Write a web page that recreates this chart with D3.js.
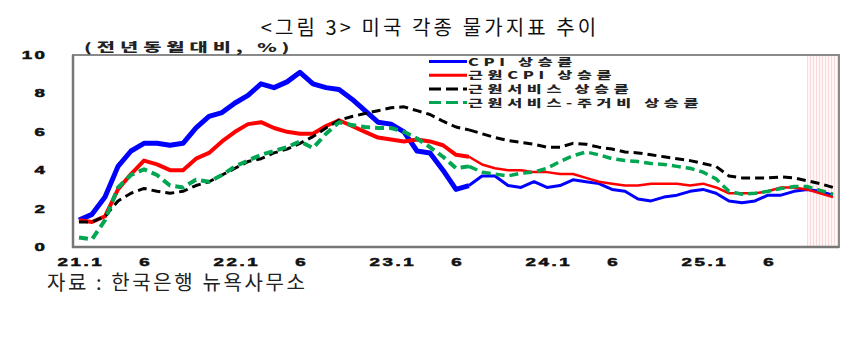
<!DOCTYPE html>
<html><head><meta charset="utf-8">
<script src="https://cdn.jsdelivr.net/npm/d3@7"></script>
<style>body{margin:0;background:#fff}</style>
</head><body><svg id="c" width="863" height="352"></svg>
<script>
// ---- data ----
const months = [
 "21.1","21.2","21.3","21.4","21.5","21.6","21.7","21.8","21.9","21.10","21.11","21.12",
 "22.1","22.2","22.3","22.4","22.5","22.6","22.7","22.8","22.9","22.10","22.11","22.12",
 "23.1","23.2","23.3","23.4","23.5","23.6","23.7","23.8","23.9","23.10","23.11","23.12",
 "24.1","24.2","24.3","24.4","24.5","24.6","24.7","24.8","24.9","24.10","24.11","24.12",
 "25.1","25.2","25.3","25.4","25.5","25.6","25.7","25.8","25.9","25.10","25.11"];
const cpi = [
 1.4,1.7,2.6,4.2,5.0,5.4,5.4,5.3,5.4,6.2,6.8,7.0,
 7.5,7.9,8.5,8.3,8.6,9.1,8.5,8.3,8.2,7.7,7.1,6.5,
 6.4,6.0,5.0,4.9,4.0,3.0,3.2,3.7,3.7,3.2,3.1,3.4,
 3.1,3.2,3.5,3.4,3.3,3.0,2.9,2.5,2.4,2.6,2.7,2.9,
 3.0,2.8,2.4,2.3,2.4,2.7,2.7,2.9,3.0,2.9,2.7];
const coreCpi = [
 1.4,1.3,1.6,3.0,3.8,4.5,4.3,4.0,4.0,4.6,4.9,5.5,
 6.0,6.4,6.5,6.2,6.0,5.9,5.9,6.3,6.6,6.3,6.0,5.7,
 5.6,5.5,5.6,5.5,5.3,4.8,4.7,4.3,4.1,4.0,4.0,3.9,
 3.9,3.8,3.8,3.6,3.4,3.3,3.2,3.2,3.3,3.3,3.3,3.2,
 3.3,3.1,2.8,2.8,2.8,2.9,3.1,3.1,3.0,2.8,2.6];
const coreServices = [
 1.3,1.3,1.6,2.4,2.8,3.05,2.9,2.8,2.9,3.2,3.4,3.75,
 4.1,4.45,4.6,4.9,5.1,5.4,5.75,6.2,6.6,6.8,6.95,7.1,
 7.25,7.3,7.1,6.9,6.55,6.25,6.1,5.9,5.7,5.55,5.45,5.35,
 5.2,5.2,5.4,5.35,5.2,5.1,4.95,4.9,4.8,4.7,4.6,4.5,
 4.35,4.2,3.7,3.6,3.6,3.6,3.65,3.6,3.45,3.3,3.1];
const superCore = [
 0.5,0.4,1.4,3.1,3.75,4.05,3.75,3.2,3.1,3.5,3.4,3.75,
 4.2,4.5,4.8,5.0,5.2,5.5,5.15,5.9,6.5,6.35,6.25,6.2,
 6.2,6.0,5.65,5.2,4.7,4.1,4.2,3.9,3.8,3.7,3.85,3.9,
 4.1,4.45,4.75,4.95,4.8,4.6,4.5,4.45,4.35,4.3,4.2,4.1,
 3.9,3.55,2.9,2.75,2.8,2.9,3.05,3.15,3.15,2.95,2.75];
const xTickMonths = ["21.1","21.6","22.1","22.6","23.1","23.6","24.1","24.6","25.1","25.6"];
const xTickLabels = ["21.1","6","22.1","6","23.1","6","24.1","6","25.1","6"];
const yTicks = [0,2,4,6,8,10];
const shadeFrom = "25.9";
const seriesNames = ["CPI 상승률","근원CPI 상승률","근원서비스 상승률","근원서비스-주거비 상승률"];
const title = "<그림 3> 미국 각종 물가지표 추이";
const unitLabel = "(전년동월대비, %)";
const sourceLabel = "자료 : 한국은행 뉴욕사무소";

// ---- layout ----
const svg = d3.select("#c");
const L = 73, R = 839, T = 55, B = 247;
const x = d3.scalePoint().domain(months).range([79, 833]);
const y = d3.scaleLinear().domain([0, 10]).range([B, T]);
const kr = "'Noto Sans CJK KR', sans-serif";
const labFont = "'Liberation Sans', Arial, sans-serif";
const TICK_SX = 1.7;

const series = [
  {name: seriesNames[0], values: cpi, color: "#0000ff", dash: null, w: [5, 3]},
  {name: seriesNames[1], values: coreCpi, color: "#ff0000", dash: null, w: [4, 2.5]},
  {name: seriesNames[2], values: coreServices, color: "#000000", dash: "9,5", w: [3, 3]},
  {name: seriesNames[3], values: superCore, color: "#00a651", dash: "9,5", w: [4, 3.5]},
];

// shading
const defs = svg.append("defs");
const pat = defs.append("pattern").attr("id","stripes").attr("patternUnits","userSpaceOnUse")
  .attr("width",3).attr("height",4);
pat.append("rect").attr("width",3).attr("height",4).attr("fill","#fff6f6");
pat.append("rect").attr("width",1).attr("height",4).attr("fill","#f9d9d9");
svg.append("rect").attr("x", x(shadeFrom)).attr("y", T).attr("width", R - x(shadeFrom)).attr("height", B - T)
  .attr("fill","url(#stripes)");

// frame
svg.append("rect").attr("x", L).attr("y", T).attr("width", R - L).attr("height", B - T)
  .attr("fill","none").attr("stroke","#8a8a8a").attr("stroke-width",2);
svg.append("path").attr("d", `M${L},${T}V${B}H${R}`).attr("fill","none").attr("stroke","#777").attr("stroke-width",2.5);

// lines
const line = d3.line().x(d => x(d.m)).y(d => y(d.v));
const split = 30;
series.forEach(s => {
  const pts = months.map((m,i) => ({m, v: s.values[i]}));
  const parts = [pts.slice(0, split + 1), pts.slice(split)];
  parts.forEach((p, k) => {
    svg.append("path").datum(p).attr("d", line).attr("fill","none")
      .attr("stroke", s.color).attr("stroke-width", s.w[k])
      .attr("stroke-dasharray", s.dash).attr("stroke-linejoin","round");
  });
});

// axes
const yAxis = svg.append("g").attr("transform", `translate(${L},0)`)
  .call(d3.axisLeft(y).tickValues(yTicks).tickSize(0).tickPadding(28).tickFormat(d3.format("d")));
yAxis.select(".domain").remove();
yAxis.selectAll("text").attr("font-family", labFont).attr("font-weight", 700)
  .attr("font-size", 11).attr("fill","#111").attr("stroke","#111").attr("stroke-width",0.5)
  .attr("letter-spacing", 1.5)
  .attr("x", -28 / TICK_SX).attr("dx", 1.5).attr("transform", `scale(${TICK_SX},1)`);

const xAxis = svg.append("g").attr("transform", `translate(0,${B})`)
  .call(d3.axisBottom(x).tickValues(xTickMonths).tickSize(0).tickPadding(11)
    .tickFormat(d => xTickLabels[xTickMonths.indexOf(d)]));
xAxis.select(".domain").remove();
xAxis.selectAll("text").attr("font-family", labFont).attr("font-weight", 700)
  .attr("font-size", 11).attr("fill","#111").attr("stroke","#111").attr("stroke-width",0.5)
  .attr("letter-spacing", 1.5).attr("dx", 0.75)
  .attr("transform", `scale(${TICK_SX},1)`);

// legend
const leg = svg.append("g").attr("transform","translate(429,61.5)");
series.forEach((s, i) => {
  const g = leg.append("g").attr("transform", `translate(0,${i * 13.7})`);
  g.append("line").attr("x1",0).attr("x2",38).attr("stroke", s.color).attr("stroke-width",3)
    .attr("stroke-dasharray", s.dash ? "12,5" : null);
  g.append("g").attr("transform","translate(39,4)scale(1.55,1)")
    .append("text").text(s.name)
    .attr("font-family", kr).attr("font-weight",900).attr("font-size",10.5)
    .attr("letter-spacing", 3).attr("fill","#222");
});

// texts
svg.append("text").attr("x", 430).attr("y", 35).attr("text-anchor","middle").text(title)
  .attr("font-family", kr).attr("font-size", 20).attr("letter-spacing", 3.1).attr("fill","#111");
svg.append("g").attr("transform","translate(84,51.5)scale(1.65,1)")
  .append("text").text(unitLabel)
  .attr("font-family", kr).attr("font-weight",900).attr("font-size",12).attr("letter-spacing",3).attr("fill","#222");
svg.append("text").attr("x", 47).attr("y", 290).text(sourceLabel)
  .attr("font-family", kr).attr("font-size", 20).attr("letter-spacing", 2.6).attr("fill","#222");
</script></body></html>
